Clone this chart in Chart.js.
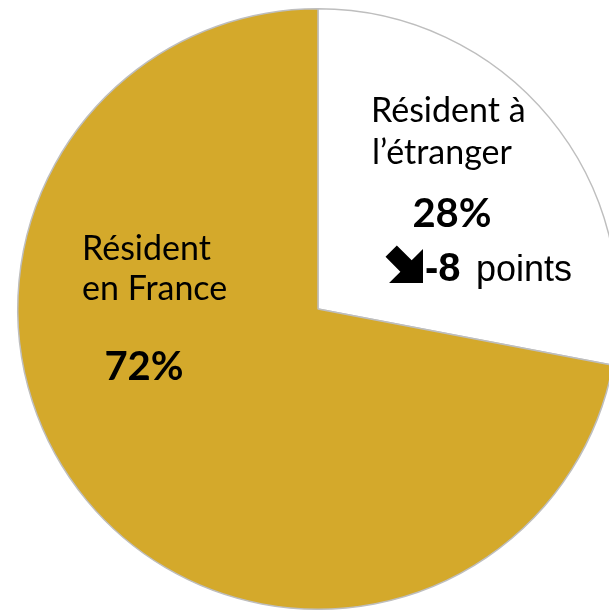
<!DOCTYPE html>
<html><head><meta charset="utf-8">
<script src="https://cdn.jsdelivr.net/npm/chart.js@4"></script>
<style>html,body{margin:0;padding:0;overflow:hidden;background:#fff;width:609px;height:613px}
#wrap{position:absolute;left:0;top:0;width:636px;height:618px}</style>
</head><body><div id="wrap"><canvas id="c"></canvas></div>
<script>
const categories = ["Résident à l’étranger", "Résident en France"];
const values = [28, 72];
const changeLabel = "-8";
const colors = ["#FFFFFF", "#D4A92B"];

const textPlugin = {
  id: 'txt',
  afterDraw(chart) {
    const ctx = chart.ctx;
    const arc = chart.getDatasetMeta(0).data[0];
    const cx = arc.x, cy = arc.y;
    ctx.save();
    ctx.fillStyle = '#000';
    ctx.textBaseline = 'alphabetic';
    const reg = '34px Lato, "Noto Sans", sans-serif';
    const bold = 'bold 40px Lato, "Noto Sans", sans-serif';
    // right slice
    ctx.textAlign = 'left';
    ctx.font = reg;
    ctx.fillText('Résident à', cx + 53, cy - 187);
    ctx.fillText('l’étranger', cx + 54, cy - 145);
    ctx.textAlign = 'center';
    ctx.font = bold;
    ctx.fillText(values[0] + '%', cx + 134, cy - 82);
    // arrow
    const tx = cx + 105, ty = cy - 26, h = 24, w = 8, L = 21;
    ctx.save();
    ctx.translate(tx, ty);
    ctx.rotate(Math.PI / 4);
    ctx.beginPath();
    ctx.moveTo(0, 0); ctx.lineTo(-h, -h); ctx.lineTo(-h, -w); ctx.lineTo(-h - L, -w);
    ctx.lineTo(-h - L, w); ctx.lineTo(-h, w); ctx.lineTo(-h, h); ctx.closePath();
    ctx.fill();
    ctx.restore();
    ctx.textAlign = 'left';
    ctx.font = 'bold 40px "Liberation Sans", Arial, sans-serif';
    ctx.fillText(changeLabel, cx + 107, cy - 28);
    ctx.font = '36px "Liberation Sans", Arial, sans-serif';
    ctx.fillText('points', cx + 158, cy - 28);
    // left slice
    ctx.font = reg;
    ctx.fillText('Résident', cx - 236, cy - 49);
    ctx.fillText('en France', cx - 236, cy - 9);
    ctx.textAlign = 'center';
    ctx.font = bold;
    ctx.fillText(values[1] + '%', cx - 174, cy + 71);
    ctx.restore();
  }
};

new Chart(document.getElementById('c'), {
  type: 'pie',
  data: { labels: categories, datasets: [{ data: values, backgroundColor: colors, borderColor: '#BEBEBE', borderWidth: 1.5 }] },
  options: {
    responsive: true, maintainAspectRatio: false, animation: false,
    layout: { padding: 8 },
    plugins: { legend: { display: false }, tooltip: { enabled: false } }
  },
  plugins: [textPlugin]
});
</script></body></html>
